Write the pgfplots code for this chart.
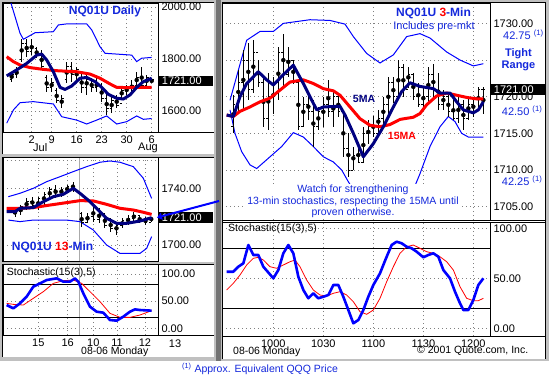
\documentclass[border=0pt]{standalone}
\usepackage{fontspec}
\setmainfont{Liberation Sans}
\usepackage{pgfplots}
\pgfplotsset{compat=1.18}
\usepackage{pgfplotstable}
\usetikzlibrary{arrows.meta}
\definecolor{navy}{RGB}{0,0,128}
\definecolor{qblue}{RGB}{0,0,255}
\definecolor{tblue}{RGB}{20,40,220}
\definecolor{qred}{RGB}{255,0,0}
\definecolor{chrome}{RGB}{192,192,192}
\definecolor{gridgray}{RGB}{128,128,128}
\definecolor{sepgray}{RGB}{170,170,170}
\newcommand{\lab}{\fontsize{11}{13}\selectfont}
\newcommand{\sm}{\fontsize{10.5}{11.5}\selectfont}
\newcommand{\ttl}{\fontsize{12}{14}\selectfont\bfseries}
\pgfdeclareplotmark{otick}{\pgfpathmoveto{\pgfqpoint{-2pt}{0pt}}\pgfpathlineto{\pgfqpoint{0pt}{0pt}}\pgfusepathqstroke}
\pgfdeclareplotmark{ctick}{\pgfpathmoveto{\pgfqpoint{0pt}{0pt}}\pgfpathlineto{\pgfqpoint{2pt}{0pt}}\pgfusepathqstroke}
\pgfplotsset{
 qpanel/.style={
  scale only axis, anchor=north west,
  axis line style={black, line width=0.8pt},
  major tick length=0pt,
  xmajorgrids, ymajorgrids,
  grid style={gridgray, line width=0.7pt, dash pattern=on 1pt off 3pt},
  ytick pos=right, yticklabel pos=right, xtick pos=bottom,
  tick label style={font=\lab, text=black},
  clip mode=individual,
 },
 ohlc/.style={only marks, mark=none, error bars/.cd, y dir=both, y explicit, error mark=none, error bar style={draw=black, line width=0.9pt, solid}},
 otk/.style={only marks, mark=otick, mark options={black, line width=0.9pt, solid}},
 ctk/.style={only marks, mark=ctick, mark options={black, line width=0.9pt, solid}},
}
\pgfplotstableread{
x h l o c
-4 1751 1713 1720 1740
-3 1770 1726 1740 1760
-2 1876 1790 1800 1860
-1 1876 1809 1860 1830
0 1876 1815 1830 1850
1 1847 1803 1840 1820
2 1835 1758 1820 1770
3 1738 1674 1730 1690
4 1726 1674 1690 1710
5 1687 1629 1680 1640
6 1662 1610 1640 1650
7 1790 1706 1720 1770
8 1790 1713 1770 1740
9 1770 1713 1740 1760
10 1751 1668 1750 1690
11 1751 1662 1690 1720
12 1726 1674 1720 1690
13 1726 1674 1690 1700
14 1706 1636 1700 1650
15 1668 1585 1650 1610
16 1655 1591 1610 1640
17 1662 1610 1640 1620
18 1694 1642 1630 1680
19 1700 1662 1680 1690
20 1719 1668 1690 1700
21 1751 1687 1700 1730
22 1770 1687 1730 1700
23 1738 1694 1700 1730
24 1726 1706 1725 1721
}\daily
\pgfplotstableread{
x h l o c
0 1725.9 1720 1722 1724
1 1728.2 1721.2 1724 1727
2 1732.9 1724.7 1727 1731
3 1734.1 1725.9 1731 1728
4 1734.1 1724.7 1728 1733
5 1737.6 1728.2 1733 1736
6 1741.2 1731.8 1736 1739
7 1742.4 1732.9 1739 1735
8 1741.2 1734.1 1735 1739
9 1742.4 1736.5 1739 1741
10 1744.7 1737.6 1741 1739
11.5 1723.5 1712.9 1722 1716
12.5 1722.4 1715.3 1716 1720
13.5 1728.2 1716.5 1720 1718
14.5 1725.9 1715.3 1718 1722
15.5 1722.4 1711.8 1722 1714
16.5 1718.8 1709.4 1714 1712
17.5 1716.5 1707.1 1712 1714
18.5 1718.8 1711.8 1714 1717
19.5 1721.2 1714.1 1717 1719
20.5 1723.5 1716.5 1719 1721
21.5 1721.2 1715.3 1721 1718
22.5 1720 1714.1 1718 1716
23.5 1720 1716.5 1716 1719
}\thirteen
\pgfplotstableread{
x h l o c
576 1720.2 1715 1716 1719
579 1723.6 1717.7 1719 1722
582 1726.4 1718.2 1722 1725
585 1727.3 1719.5 1725 1721
588 1727.7 1720.5 1721 1726
591 1725 1721.4 1726 1722
594 1722.7 1715.9 1722 1717
597 1723.2 1715.5 1717 1720
600 1722.7 1717.7 1720 1722
603 1726.8 1719.5 1722 1726
606 1728.6 1721.4 1726 1723
609 1726.8 1722.7 1723 1725
612 1725 1721.8 1725 1722
615 1722.3 1715.5 1722 1716
618 1720 1715.9 1716 1719
621 1720.5 1716.8 1719 1718
624 1719.5 1713.2 1718 1716
627 1718.6 1715.5 1716 1718
630 1720 1715.9 1718 1719
633 1722.3 1717.3 1719 1718
636 1720.9 1715.9 1718 1720
639 1720.5 1717.3 1720 1718
642 1718.2 1711.8 1718 1713
645 1715 1709.1 1713 1710
648 1713.2 1710 1710 1712
651 1713.2 1710.9 1712 1711
654 1715.9 1710.9 1711 1715
657 1716.8 1713.6 1715 1716
660 1717.3 1714.5 1716 1715
663 1718.2 1715 1715 1717
666 1720 1715.9 1717 1719
669 1722.7 1717.3 1719 1722
672 1722.7 1719.1 1722 1720
675 1725 1719.5 1720 1724
678 1724.5 1720 1724 1721
681 1724.1 1721.2 1721 1723
684 1723.2 1719.5 1723 1720
687 1721.8 1718.6 1720 1719
690 1721.4 1718.2 1719 1720
693 1724.1 1719.1 1720 1723
696 1724.5 1719.5 1723 1720
699 1723.2 1718.2 1720 1719
702 1720.9 1718.2 1719 1720
705 1720.5 1717.3 1720 1718
708 1719.5 1716.8 1718 1717
711 1720 1716.4 1717 1719
714 1719.5 1715.5 1719 1717
717 1720 1716.8 1717 1719
720 1720 1717.3 1719 1718
723 1721.4 1718.2 1718 1721
726 1721.4 1717.7 1721 1721
}\threemin
\begin{document}
\begin{tikzpicture}
\path[use as bounding box] (0,0) rectangle (549pt,-378pt);
\fill[white] (0,0) rectangle (549pt,-378pt);
\fill[chrome] (0,0) rectangle (549pt,-361pt);
\fill[white] (2pt,-2pt) rectangle (214pt,-154pt);
\fill[white] (2pt,-157pt) rectangle (214pt,-262pt);
\fill[white] (2pt,-264pt) rectangle (214pt,-357pt);
\fill[black!55] (216pt,0pt) rectangle (221pt,-361pt);
\fill[white] (222pt,-2pt) rectangle (545.5pt,-359pt);

% ---------------- Daily ----------------
\begin{axis}[qpanel, at={(3pt,-3pt)}, width=155pt, height=129pt,
  xmin=-5.74, xmax=25.26, ymin=1519.2, ymax=2015.4,
  xtick={0,4,9,14,19,24}, xticklabels={2,9,16,23,30,6},
  ytick={1600,1800,2000}, yticklabels={1600.00,1800.00,2000.00}]
\addplot[qblue, line width=1pt] coordinates {(-4.33,2027) (-3.33,1963) (-2.33,1899) (-1.67,1876) (-1,1883) (0.67,1901) (4.33,1905) (5.33,1931) (7,1935) (11,1935) (12,1912) (13.67,1847) (14.67,1822) (20,1815) (21,1790) (22,1803) (24,1806)};
\addplot[qblue, line width=1pt] coordinates {(-5,1553) (-3.67,1604) (-2.33,1632) (0.33,1636) (4.33,1627) (6,1578) (9,1565) (11,1550) (13,1565) (15,1581) (17,1550) (19,1559) (21,1581) (22.33,1568) (24,1571)};
\addplot[ohlc] table[x=x, y expr=(\thisrow{h}+\thisrow{l})/2, y error expr=(\thisrow{h}-\thisrow{l})/2] {\daily};
\addplot[otk] table[x=x, y=o] {\daily};
\addplot[ctk] table[x=x, y=c] {\daily};
\addplot[qred, line width=3pt, line join=round] coordinates {(-5,1809) (-3.67,1790) (-2.33,1777) (-0.33,1767) (2.33,1760) (5,1755) (9,1751) (11.67,1742) (13.67,1726) (15.67,1704) (17,1691) (19,1690) (21,1691) (24,1691)};
\addplot[navy, line width=3pt, line join=round] coordinates {(-5,1735) (-3,1758) (-1,1783) (1,1815) (2,1819) (3,1796) (4.33,1751) (5.67,1691) (6.67,1683) (8,1696) (9.67,1726) (11,1729) (12.67,1713) (14,1691) (15.33,1664) (17,1649) (18.33,1646) (19.67,1662) (21,1691) (22.33,1713) (24,1726)};
\end{axis}

% ---------------- 13-min ----------------
\begin{axis}[qpanel, at={(3pt,-157pt)}, width=155pt, height=104pt,
  xmin=-2.07, xmax=24.66, ymin=1688.7, ymax=1762.1,
  xtick={4.02,9.08,13.5,17.6,22.4}, xticklabels={},
  extra x ticks={11.2}, extra x tick labels={}, extra x tick style={grid style={sepgray, solid, line width=1pt}},
  ytick={1700,1740,1760}, yticklabels={1700.00,1740.00,}]
\addplot[qblue, line width=1pt] coordinates {(-1.15,1734.1) (0.86,1736.5) (3.16,1740) (5.46,1744.7) (7.76,1748.2) (10.06,1751.8) (12.36,1755.3) (14.66,1758.4) (16.38,1759.3) (18.1,1758.4) (20.4,1755.3) (22.13,1747.1) (23.56,1732.9)};
\addplot[qblue, line width=1pt] coordinates {(-1.15,1717.6) (0.86,1716.5) (3.16,1717.6) (8.9,1717.6) (11.2,1716.5) (13.5,1710.6) (15.8,1700) (18.1,1694.1) (21.55,1694.1) (22.7,1697.6) (23.56,1705.9)};
\addplot[ohlc] table[x=x, y expr=(\thisrow{h}+\thisrow{l})/2, y error expr=(\thisrow{h}-\thisrow{l})/2] {\thirteen};
\addplot[otk] table[x=x, y=o] {\thirteen};
\addplot[ctk] table[x=x, y=c] {\thirteen};
\addplot[qred, line width=3pt, line join=round] coordinates {(-1.44,1725.9) (0.86,1725.9) (3.16,1726.4) (6.03,1728.2) (8.9,1729.9) (11.2,1731.3) (13.5,1731.1) (15.8,1728.7) (18.1,1725.9) (20.4,1724.7) (22.13,1723.1) (23.56,1721.6)};
\addplot[navy, line width=3pt, line join=round] coordinates {(-1.44,1723.5) (0,1723.5) (0.86,1725.9) (3.16,1726.4) (4.89,1730.6) (6.61,1734.1) (8.33,1735.8) (10.06,1740) (11.2,1736.5) (12.93,1730.6) (14.66,1723.5) (15.8,1718.8) (17.53,1715.3) (19.25,1715.3) (21.55,1716.9) (23.56,1719.3)};
\end{axis}

% ---------------- small stochastic ----------------
\begin{axis}[qpanel, at={(3pt,-264pt)}, width=155pt, height=71pt,
  xmin=-2.07, xmax=24.66, ymin=-12.3, ymax=118.4,
  xtick={4.02,9.08,13.5,17.6,22.4}, xticklabels={15,16,10,11,12},
  extra x ticks={11.2}, extra x tick labels={}, extra x tick style={grid style={sepgray, solid, line width=1pt}},
  ytick={0,50,100}, yticklabels={0.00,50.00,100.00},
  extra y ticks={20,80}, extra y tick labels={}, extra y tick style={grid style={black, solid, line width=0.8pt}}]
\addplot[qred, line width=0.8pt] coordinates {(-1.44,46) (-0.29,44.1) (1.44,42.9) (3.16,55.2) (4.89,67.5) (6.61,82.8) (8.33,87.7) (10.06,88.9) (11.49,82.8) (12.93,67.5) (14.66,49.1) (16.38,27.6) (18.1,20.2) (19.83,20.2) (21.55,24.5) (23.56,32.5)};
\addplot[qblue, line width=2.6pt, line join=round] coordinates {(-1.44,42.9) (-0.29,36.8) (0.86,46) (2.01,58.3) (3.16,76.7) (4.31,82.8) (5.46,88.9) (7.18,92) (8.33,85.9) (9.48,85.9) (10.34,92) (10.92,85.9) (11.78,64.4) (12.93,39.8) (14.08,30.6) (15.23,28.8) (16.38,15.3) (17.53,14.1) (18.68,21.5) (19.83,30.6) (20.69,34.9) (21.55,33.7) (23.56,32.5)};
\end{axis}

% ---------------- 3-min price ----------------
\begin{axis}[qpanel, at={(222pt,-3pt)}, width=268pt, height=217pt,
  xmin=569.2, xmax=730, ymin=1703.18, ymax=1732.78,
  xtick={600,630,660,690,720}, xticklabels={},
  ytick={1705,1710,1715,1720,1725,1730}, yticklabels={1705.00,1710.00,1715.00,1720.00,,1730.00}]
\addplot[qblue, line width=1pt] coordinates {(574,1719.5) (584,1727.7) (592,1728.9) (600,1728.9) (606,1730) (622,1730.5) (634,1730.4) (643,1729.9) (648,1728.2) (656,1725.9) (664,1724.6) (672,1725.7) (680,1728.2) (688,1728.6) (694,1728) (704,1726.1) (712,1725) (720,1724.2) (726,1724.5)};
\addplot[qblue, line width=1pt] coordinates {(574,1718.2) (577,1715) (581,1712.5) (586,1710.7) (590,1710.2) (598,1711.8) (605,1713.2) (612,1715.1) (618,1714.5) (624,1713.2) (630,1711.8) (636,1711.1) (641,1710) (645,1708.4) (652,1705.9) (664,1704.5) (676,1705) (684,1707.3) (688,1709.5) (694,1713.2) (700,1715.9) (705,1717.3) (709,1716.6) (713,1715) (717,1714.5) (726,1714.5)};
\addplot[ohlc] table[x=x, y expr=(\thisrow{h}+\thisrow{l})/2, y error expr=(\thisrow{h}-\thisrow{l})/2] {\threemin};
\addplot[otk] table[x=x, y=o] {\threemin};
\addplot[ctk] table[x=x, y=c] {\threemin};
\addplot[qred, line width=3pt, line join=round] coordinates {(572,1717.5) (576,1717.3) (580,1718) (586,1718.6) (592,1719.3) (598,1719.8) (604,1720.9) (610,1722) (618,1722.3) (624,1721.8) (630,1721.1) (636,1720.8) (640,1720.2) (646,1718.6) (652,1717) (658,1716.1) (664,1715.9) (670,1716.2) (676,1716.9) (684,1717.2) (688,1717.7) (692,1718.9) (698,1720.1) (704,1720.5) (710,1720.2) (716,1719.9) (722,1719.7) (726,1719.7)};
\addplot[navy, line width=3pt, line join=round] coordinates {(572,1717.5) (576,1717.3) (580,1720) (584,1721.8) (591,1723.4) (596,1722.3) (600,1721.6) (606,1723) (612,1724.3) (618,1721.8) (626,1718.2) (630,1718.6) (640,1718.7) (643,1717.5) (648,1715) (654,1711.8) (660,1713.6) (666,1715.9) (672,1718.6) (677,1720.7) (682,1721.9) (688,1721.4) (696,1721.1) (700,1720.5) (706,1720.5) (710,1719.3) (714,1718.2) (720,1717.8) (723,1718.2) (726,1719.3)};
\end{axis}

% ---------------- 3-min stochastic ----------------
\begin{axis}[qpanel, at={(222pt,-222.5pt)}, width=268pt, height=113.5pt,
  xmin=569.2, xmax=730, ymin=-7.7, ymax=105.8,
  xtick={600,630,660,690,720}, xticklabels={1000,1030,1100,1130,1200},
  ytick={0,50,100}, yticklabels={0.00,50.00,100.00},
  extra y ticks={20,80}, extra y tick labels={}, extra y tick style={grid style={black, solid, line width=0.8pt}}]
\addplot[qred, line width=0.8pt] coordinates {(572,38.3) (576,45) (580,53.3) (584,63.3) (588,70) (591,71) (594,68.3) (598,61.6) (602,60) (606,63.3) (610,66.6) (613,68.3) (616,61.6) (620,48.3) (624,38.3) (628,33.3) (632,32.3) (636,35) (640,36.6) (644,33.3) (648,26.6) (652,16.6) (656,14) (660,18.3) (664,30) (668,46.6) (672,61.6) (676,75) (680,81.6) (684,83.3) (688,80) (692,76.6) (696,75) (700,71.6) (704,66.6) (708,58.3) (712,41.6) (716,30) (720,27.6) (723,27.6) (726,30)};
\addplot[qblue, line width=2.6pt, line join=round] coordinates {(572,56.6) (576,56.6) (579,61.6) (582,65) (585,83.3) (588,73.3) (591,73.3) (594,61.6) (600,50) (603,58.3) (606,75) (609,83.3) (612,75) (615,51.6) (618,38.3) (621,30) (624,35) (627,30) (630,31.6) (633,33.3) (636,43.3) (639,43.3) (642,31.6) (645,18.3) (648,5) (651,8.3) (654,18.3) (657,31.6) (660,43.3) (664,55) (668,71.6) (671,83.3) (674,86.6) (677,85) (680,81.6) (683,80) (686,76.6) (690,71) (693,73.3) (696,75) (699,71.6) (702,58.3) (706,50) (709,36.6) (712,25) (714,18.3) (717,18.3) (720,28.3) (723,43.3) (726,50)};
\end{axis}

% ---------------- frame lines ----------------
\draw[black, line width=0.8pt] (158pt,-132pt) -- (214pt,-132pt);
\draw[black, line width=0.8pt] (158pt,-335pt) -- (214pt,-335pt);
\draw[black, line width=0.8pt] (490pt,-220pt) -- (545.5pt,-220pt);
\draw[black, line width=0.8pt] (490pt,-222.5pt) -- (545.5pt,-222.5pt);
\draw[black, line width=0.8pt] (490pt,-336pt) -- (545.5pt,-336pt);
\draw[black, line width=0.8pt] (2pt,-154pt) -- (2pt,-2pt) -- (214pt,-2pt);
\draw[black, line width=0.8pt] (2pt,-262pt) -- (2pt,-157pt) -- (214pt,-157pt);
\draw[black, line width=0.8pt] (2pt,-357pt) -- (2pt,-264pt) -- (214pt,-264pt);
\draw[black, line width=0.8pt] (222pt,-359pt) -- (222pt,-2pt) -- (545.5pt,-2pt) -- (545.5pt,-359pt);

% ---------------- daily annotations ----------------
\node[font=\ttl, text=tblue] at (105pt,-11.7pt) {NQ01U Daily};
\node[font=\lab, anchor=west, inner sep=0] at (33pt,-148pt) {Jul};
\node[font=\lab, anchor=west, inner sep=0] at (138pt,-148pt) {Aug};
\fill[black] (159pt,-76pt) rectangle (213pt,-86pt);
\node[font=\lab, text=white, anchor=west, inner sep=0] at (161.7pt,-81pt) {1721.00};

% ---------------- 13-min annotations ----------------
\node[font=\ttl, anchor=west, inner sep=0] at (11.7pt,-247pt) {\textcolor{tblue}{NQ01U }\textcolor{qred}{13}\textcolor{tblue}{-Min}};
\fill[black] (159pt,-212.3pt) rectangle (213pt,-223.3pt);
\node[font=\lab, text=white, anchor=west, inner sep=0] at (161.7pt,-217.8pt) {1721.00};
\draw[qblue, line width=2pt, {Triangle[length=5pt,width=7pt]}-] (157pt,-217.5pt) -- (219pt,-201pt);

% ---------------- small stoch annotations ----------------
\node[font=\sm, anchor=west, inner sep=0] at (6.7pt,-272.5pt) {Stochastic(15(3),5)};
\node[font=\lab] at (175pt,-343.5pt) {13};
\node[font=\sm, anchor=west, inner sep=0] at (81pt,-352pt) {08-06 Monday};

% ---------------- 3-min annotations ----------------
\node[font=\ttl] at (433.5pt,-13pt) {\textcolor{tblue}{NQ01U }\textcolor{qred}{3}\textcolor{tblue}{-Min}};
\node[font=\lab, text=tblue] at (434pt,-26.5pt) {Includes pre-mkt};
\node[font=\sm\bfseries, text=navy] at (364pt,-99pt) {5MA};
\node[font=\sm\bfseries, text=qred] at (402pt,-135.8pt) {15MA};
\node[font=\sm, text=tblue, fill=white, align=center, inner xsep=2pt, inner ysep=1.5pt] at (353pt,-201.5pt) {Watch for strengthening\\13-min stochastics, respecting the 15MA until\\proven otherwise.};
\fill[black] (489.5pt,-84pt) rectangle (545pt,-95pt);
\node[font=\lab, text=white, anchor=west, inner sep=0] at (493.7pt,-89.5pt) {1721.00};
\node[font=\lab, text=tblue, anchor=west, inner sep=0] at (503pt,-35pt) {42.75 \textsuperscript{(1)}};
\node[font=\lab, text=tblue, anchor=west, inner sep=0] at (501.7pt,-110.5pt) {42.50 \textsuperscript{(1)}};
\node[font=\lab, text=tblue, anchor=west, inner sep=0] at (501.7pt,-181pt) {42.25 \textsuperscript{(1)}};
\node[font=\lab\bfseries, text=tblue, align=center, inner sep=0] at (518.5pt,-60pt) {Tight\\[-1pt]Range};
\node[font=\sm, anchor=west, inner sep=0] at (228pt,-228.5pt) {Stochastic(15(3),5)};
\node[font=\sm, anchor=west, inner sep=0] at (233pt,-352pt) {08-06 Monday};
\node[font=\sm, anchor=west, inner sep=0] at (417pt,-351pt) {\textcopyright{} 2001 Quote.com, Inc.};

% ---------------- footnote ----------------
\node[font=\sm, text=tblue] at (260pt,-369pt) {\textsuperscript{(1)} Approx. Equivalent QQQ Price};
\end{tikzpicture}
\end{document}
